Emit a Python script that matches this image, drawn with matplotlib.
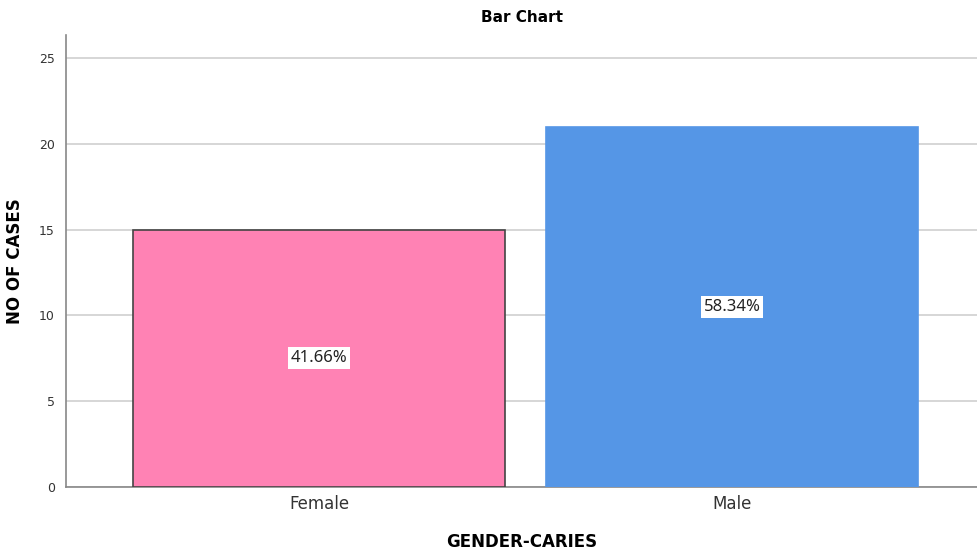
import matplotlib
matplotlib.use("Agg")
import matplotlib.pyplot as plt

categories = ["Female", "Male"]
counts = [15, 21]
pct_labels = ["41.66%", "58.34%"]
colors = ["#FF82B4", "#5596E6"]
edges = ["#444444", "#5596E6"]

fig = plt.figure(figsize=(9.77, 5.52), dpi=100)
ax = fig.add_axes([0.0676, 0.1178, 0.9324, 0.8188])

x = range(len(categories))
bars = ax.bar(x, counts, width=0.9, color=colors, edgecolor=edges, linewidth=1.2, zorder=3)

for b, lab in zip(bars, pct_labels):
    ax.text(b.get_x() + b.get_width() / 2, b.get_height() / 2, lab,
            ha="center", va="center", fontsize=12, color="#222222", zorder=4,
            family="Noto Sans",
            bbox=dict(facecolor="white", edgecolor="none", pad=2))

ax.set_xlim(-0.6126, 1.593)
ax.set_ylim(0, 26.34)
ax.set_yticks([0, 5, 10, 15, 20, 25])
ax.set_xticks(list(x))
ax.set_xticklabels(categories, fontsize=12, color="#333333")
ax.tick_params(axis="y", labelsize=9, labelcolor="#333333", length=0, pad=8)
ax.tick_params(axis="x", length=0, pad=6)
ax.yaxis.grid(True, color="#d0d0d0", linewidth=1.2, zorder=0)
ax.set_axisbelow(True)

for s in ["top", "right"]:
    ax.spines[s].set_visible(False)
for s in ["left", "bottom"]:
    ax.spines[s].set_color("#888888")
    ax.spines[s].set_linewidth(1.2)

ax.set_ylabel("NO OF CASES", fontsize=12, fontweight="bold")
ax.yaxis.set_label_coords(-0.046, 0.5)
ax.set_xlabel("GENDER-CARIES", fontsize=12, fontweight="bold", labelpad=14)
ax.set_title("Bar Chart", fontsize=11, fontweight="bold", pad=9)

fig.savefig("out.png", dpi=100)
